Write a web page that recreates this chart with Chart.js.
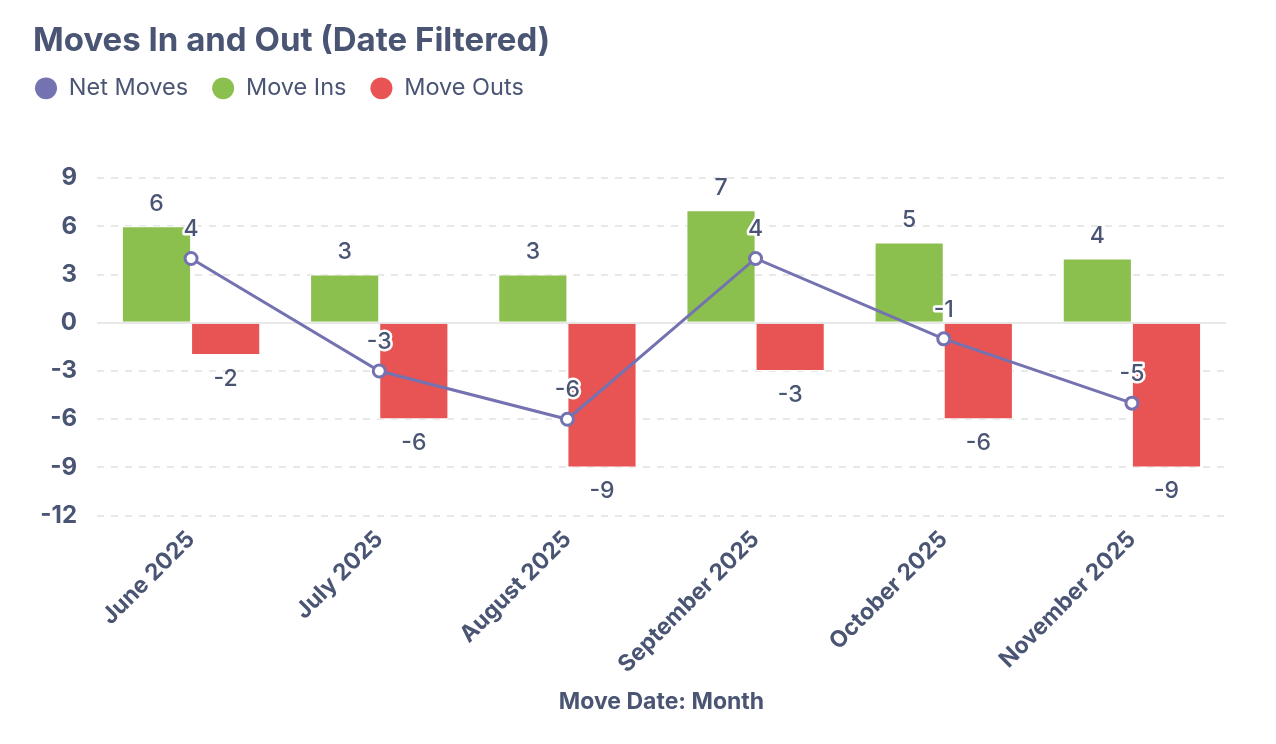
<!DOCTYPE html>
<html>
<head>
<meta charset="utf-8">
<title>Moves In and Out</title>
<script src="https://cdn.jsdelivr.net/npm/chart.js@4/dist/chart.umd.min.js"></script>
<style>
    html, body { margin: 0; padding: 0; background: #fff; }
    #wrap { width: 1276px; height: 744px; position: relative; }
</style>
</head>
<body>
<div id="wrap"><canvas id="chart"></canvas></div>
<script>
const months = ['June 2025', 'July 2025', 'August 2025', 'September 2025', 'October 2025', 'November 2025'];
const netMoves = [4, -3, -6, 4, -1, -5];
const moveIns = [6, 3, 3, 7, 5, 4];
const moveOuts = [-2, -6, -9, -3, -6, -9];

const TEXT = '#4a5574';
const FONT = 'Inter, "Noto Sans", sans-serif';

// draws the value labels next to each bar / point
const valueLabels = {
    id: 'valueLabels',
    afterDatasetsDraw(chart) {
        const ctx = chart.ctx;
        ctx.save();
        ctx.font = '500 23px ' + FONT;
        ctx.textAlign = 'center';
        ctx.textBaseline = 'middle';
        const order = [1, 2, 0];
        order.forEach(i => {
            const ds = chart.data.datasets[i];
            const meta = chart.getDatasetMeta(i);
            meta.data.forEach((el, j) => {
                const v = ds.data[j];
                if (meta.type === 'line') {
                    const y = el.y - 29;
                    ctx.lineWidth = 5;
                    ctx.strokeStyle = '#fff';
                    ctx.lineJoin = 'round';
                    ctx.strokeText(String(v), el.x, y);
                    ctx.fillStyle = TEXT;
                    ctx.fillText(String(v), el.x, y);
                } else {
                    const y = v >= 0 ? el.y - 22 : el.y + 24;
                    ctx.fillStyle = TEXT;
                    ctx.fillText(String(v), el.x, y);
                }
            });
        });
        ctx.restore();
    }
};

// extra room under the legend, and nudge it up/left to sit under the title
const legendGap = {
    id: 'legendGap',
    beforeInit(chart) {
        const origFit = chart.legend.fit;
        chart.legend.fit = function () {
            origFit.bind(chart.legend)();
            this.height += 54;
        };
    },
    afterLayout(chart) {
        const lg = chart.legend;
        lg.left -= 22;
        lg.right -= 22;
        lg.top -= 14;
        lg.bottom -= 14;
    }
};

const ctx = document.getElementById('chart').getContext('2d');
new Chart(ctx, {
    type: 'bar',
    data: {
        labels: months,
        datasets: [
            {
                type: 'line',
                label: 'Net Moves',
                data: netMoves,
                borderColor: '#7472b0',
                backgroundColor: '#7472b0',
                borderWidth: 3,
                pointRadius: 6,
                pointBorderWidth: 3,
                pointBackgroundColor: '#fff',
                pointBorderColor: '#7472b0',
                tension: 0,
                order: 0
            },
            {
                label: 'Move Ins',
                data: moveIns,
                backgroundColor: '#8bc04e',
                borderColor: '#ffffff',
                borderWidth: 1,
                order: 1
            },
            {
                label: 'Move Outs',
                data: moveOuts,
                backgroundColor: '#e85454',
                borderColor: '#ffffff',
                borderWidth: 1,
                order: 2
            }
        ]
    },
    options: {
        responsive: true,
        maintainAspectRatio: false,
        animation: false,
        layout: { padding: { left: 33, right: 50, top: 20, bottom: 24 } },
        datasets: {
            bar: { barPercentage: 1, categoryPercentage: 0.735 }
        },
        plugins: {
            title: {
                display: true,
                text: 'Moves In and Out (Date Filtered)',
                align: 'start',
                color: TEXT,
                font: { family: FONT, size: 33, weight: 'bold' },
                padding: { top: 1, bottom: 6 }
            },
            legend: {
                display: true,
                align: 'start',
                labels: {
                    usePointStyle: true,
                    pointStyle: 'circle',
                    pointStyleWidth: 22,
                    boxHeight: 15.5,
                    color: TEXT,
                    padding: 24,
                    font: { family: FONT, size: 23.5 },
                    generateLabels(chart) {
                        return chart.data.datasets.map((ds, i) => ({
                            text: ds.label,
                            fillStyle: i === 0 ? '#7472b0' : ds.backgroundColor,
                            strokeStyle: i === 0 ? '#7472b0' : ds.backgroundColor,
                            lineWidth: 0,
                            pointStyle: 'circle',
                            fontColor: TEXT,
                            datasetIndex: i,
                            hidden: !chart.isDatasetVisible(i)
                        }));
                    }
                }
            },
            tooltip: { enabled: false }
        },
        scales: {
            x: {
                grid: { display: false },
                border: { display: false },
                ticks: {
                    color: TEXT,
                    font: { family: FONT, size: 23, weight: 'bold' },
                    maxRotation: 45,
                    minRotation: 45,
                    padding: 2
                },
                title: {
                    display: true,
                    text: 'Move Date: Month',
                    color: TEXT,
                    font: { family: FONT, size: 23, weight: 'bold' },
                    padding: { top: 8 }
                }
            },
            y: {
                min: -12,
                max: 9,
                afterFit(scale) { scale.width = 64; },
                ticks: {
                    stepSize: 3,
                    color: TEXT,
                    padding: 20,
                    font: { family: FONT, size: 24, weight: 'bold' }
                },
                grid: {
                    drawTicks: false,
                    color: '#e8e8e8',
                    lineWidth: 2
                },
                border: {
                    display: false,
                    dash: ctx => (ctx.tick && ctx.tick.value === 0 ? [] : [7, 7])
                }
            }
        }
    },
    plugins: [valueLabels, legendGap]
});
</script>
</body>
</html>
